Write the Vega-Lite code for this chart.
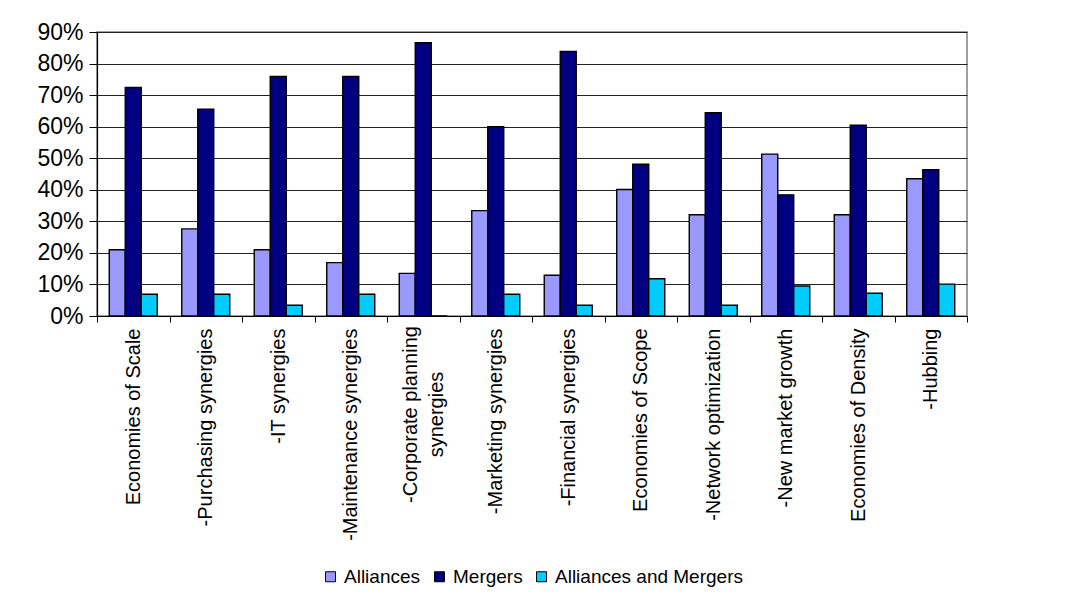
{
  "$schema": "https://vega.github.io/schema/vega-lite/v6.json",
  "autosize": {"type": "none"},
  "padding": {"left": 97, "top": 32, "right": 117, "bottom": 278},
  "width": 870,
  "height": 284,
  "background": "white",
  "config": {
    "font": "Liberation Sans",
    "view": {"stroke": "#808080", "strokeWidth": 1.5}
  },
  "data": {
    "values": [
      {"factor": "Economies of Scale", "type": "Alliances", "share": 0.21},
      {"factor": "Economies of Scale", "type": "Mergers", "share": 0.724},
      {"factor": "Economies of Scale", "type": "Alliances and Mergers", "share": 0.069},
      {"factor": "-Purchasing synergies", "type": "Alliances", "share": 0.276},
      {"factor": "-Purchasing synergies", "type": "Mergers", "share": 0.655},
      {"factor": "-Purchasing synergies", "type": "Alliances and Mergers", "share": 0.069},
      {"factor": "-IT synergies", "type": "Alliances", "share": 0.21},
      {"factor": "-IT synergies", "type": "Mergers", "share": 0.759},
      {"factor": "-IT synergies", "type": "Alliances and Mergers", "share": 0.034},
      {"factor": "-Maintenance synergies", "type": "Alliances", "share": 0.169},
      {"factor": "-Maintenance synergies", "type": "Mergers", "share": 0.759},
      {"factor": "-Maintenance synergies", "type": "Alliances and Mergers", "share": 0.069},
      {"factor": "-Corporate planning synergies", "type": "Alliances", "share": 0.135},
      {"factor": "-Corporate planning synergies", "type": "Mergers", "share": 0.866},
      {"factor": "-Corporate planning synergies", "type": "Alliances and Mergers", "share": 0},
      {"factor": "-Marketing synergies", "type": "Alliances", "share": 0.334},
      {"factor": "-Marketing synergies", "type": "Mergers", "share": 0.6},
      {"factor": "-Marketing synergies", "type": "Alliances and Mergers", "share": 0.069},
      {"factor": "-Financial synergies", "type": "Alliances", "share": 0.129},
      {"factor": "-Financial synergies", "type": "Mergers", "share": 0.838},
      {"factor": "-Financial synergies", "type": "Alliances and Mergers", "share": 0.034},
      {"factor": "Economies of Scope", "type": "Alliances", "share": 0.401},
      {"factor": "Economies of Scope", "type": "Mergers", "share": 0.481},
      {"factor": "Economies of Scope", "type": "Alliances and Mergers", "share": 0.118},
      {"factor": "-Network optimization", "type": "Alliances", "share": 0.321},
      {"factor": "-Network optimization", "type": "Mergers", "share": 0.644},
      {"factor": "-Network optimization", "type": "Alliances and Mergers", "share": 0.034},
      {"factor": "-New market growth", "type": "Alliances", "share": 0.513},
      {"factor": "-New market growth", "type": "Mergers", "share": 0.384},
      {"factor": "-New market growth", "type": "Alliances and Mergers", "share": 0.095},
      {"factor": "Economies of Density", "type": "Alliances", "share": 0.321},
      {"factor": "Economies of Density", "type": "Mergers", "share": 0.605},
      {"factor": "Economies of Density", "type": "Alliances and Mergers", "share": 0.072},
      {"factor": "-Hubbing", "type": "Alliances", "share": 0.435},
      {"factor": "-Hubbing", "type": "Mergers", "share": 0.464},
      {"factor": "-Hubbing", "type": "Alliances and Mergers", "share": 0.101}
    ]
  },
  "mark": {"type": "bar", "stroke": "black", "strokeWidth": 1.4},
  "encoding": {
    "x": {
      "field": "factor",
      "type": "nominal",
      "sort": null,
      "scale": {"paddingInner": 0, "paddingOuter": 0},
      "axis": {
        "title": null,
        "labelAngle": -90,
        "labelFontSize": 20,
        "labelColor": "black",
        "labelLimit": 0,
        "labelLineHeight": 26,
        "labelExpr": "datum.value == '-Corporate planning synergies' ? ['-Corporate planning', 'synergies'] : datum.value",
        "labelAlign": {"condition": {"test": "datum.value == '-Corporate planning synergies'", "value": "center"}, "value": "right"},
        "labelPadding": {"condition": {"test": "datum.value == '-Corporate planning synergies'", "value": 92}, "value": 6},
        "labelOffset": {"condition": {"test": "datum.value == '-Corporate planning synergies'", "value": -13}, "value": 0},
        "tickBand": "extent",
        "tickSize": 6,
        "tickColor": "black",
        "domainColor": "black",
        "domainWidth": 1.2,
        "grid": false
      }
    },
    "xOffset": {
      "field": "type",
      "type": "nominal",
      "scale": {"domain": ["Alliances", "Mergers", "Alliances and Mergers"], "paddingInner": 0, "paddingOuter": 0.766}
    },
    "y": {
      "field": "share",
      "type": "quantitative",
      "scale": {"domain": [0, 0.9], "nice": false},
      "axis": {
        "title": null,
        "format": ".0%",
        "values": [0, 0.1, 0.2, 0.3, 0.4, 0.5, 0.6, 0.7, 0.8, 0.9],
        "labelFontSize": 23,
        "labelColor": "black",
        "labelPadding": 6,
        "tickSize": 8,
        "tickColor": "black",
        "domainColor": "black",
        "domainWidth": 1.2,
        "gridColor": "#222222",
        "gridWidth": 1
      }
    },
    "color": {
      "field": "type",
      "type": "nominal",
      "scale": {"domain": ["Alliances", "Mergers", "Alliances and Mergers"], "range": ["#9999FF", "#000080", "#00CCFF"]},
      "legend": {
        "title": null,
        "orient": "none",
        "direction": "horizontal",
        "legendX": 224,
        "legendY": 535,
        "symbolType": "square",
        "symbolSize": 100,
        "symbolStrokeColor": "black",
        "symbolStrokeWidth": 1,
        "symbolOpacity": 1,
        "labelFontSize": 19,
        "labelColor": "black",
        "labelOffset": 4,
        "columnPadding": 9,
        "labelLimit": 0
      }
    }
  }
}
